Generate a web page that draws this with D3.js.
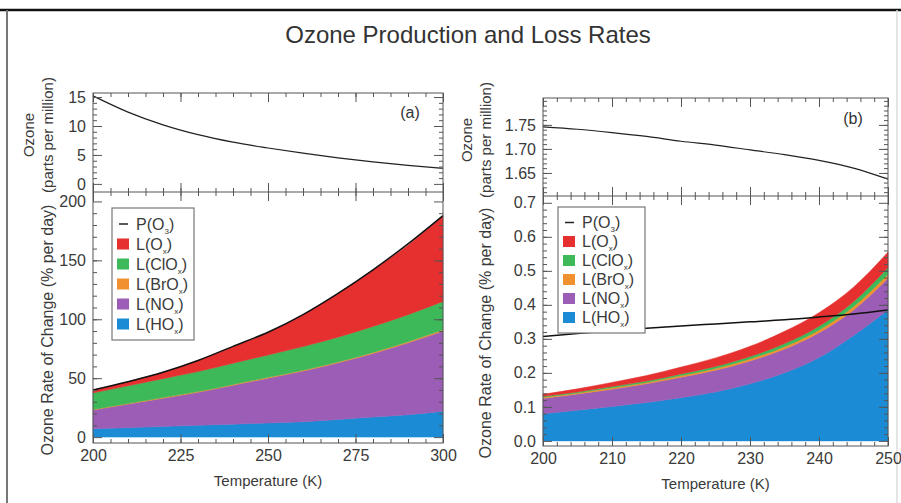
<!DOCTYPE html>
<html>
<head>
<meta charset="utf-8">
<script src="https://cdn.jsdelivr.net/npm/d3@7"></script>
<style>
  body { margin: 0; background: #fff; }
  svg { display: block; font-family: "Liberation Sans", Arial, sans-serif; }
  .tick text { fill: #3a3a3a; font-size: 16px; }
  .tick line { stroke: #555; }
  .domain { display: none; }
</style>
</head>
<body>
<svg width="901" height="503"></svg>
<script>
// ---- panel (a) data, temperature 200-300 K ----
var temp_a  = [200, 210, 220, 230, 240, 250, 260, 270, 280, 290, 300];
var ozone_a = [15.2, 12.4, 10.2, 8.5, 7.2, 6.2, 5.3, 4.5, 3.8, 3.2, 2.7];
var prod_a  = [40, 47, 55, 65, 77, 89, 104, 122, 142, 164, 188];
var hox_a   = [7, 8, 9, 10, 11, 12, 13, 15, 17, 19, 22];
var nox_a   = [16, 20, 24, 28, 33, 38, 43, 48, 54, 61, 68];
var brox_a  = [0.5, 0.5, 0.6, 0.6, 0.7, 0.7, 0.8, 0.8, 0.9, 0.9, 1.0];
var clox_a  = [14, 15, 16, 17, 18, 19, 20, 21, 22, 23, 24];
var ox_a    = [2.5, 3.5, 5.5, 9.5, 14, 19, 27, 37, 48, 59, 73];

// ---- panel (b) data, temperature 200-250 K ----
var temp_b  = [200, 205, 210, 215, 220, 225, 230, 235, 240, 245, 250];
var ozone_b = [1.746, 1.741, 1.734, 1.726, 1.716, 1.708, 1.698, 1.688, 1.676, 1.660, 1.637];
var prod_b  = [0.307, 0.316, 0.324, 0.331, 0.338, 0.344, 0.350, 0.356, 0.364, 0.373, 0.385];
var hox_b   = [0.080, 0.090, 0.101, 0.113, 0.127, 0.144, 0.168, 0.200, 0.245, 0.310, 0.385];
var nox_b   = [0.045, 0.048, 0.051, 0.055, 0.060, 0.064, 0.067, 0.070, 0.073, 0.075, 0.093];
var brox_b  = [0.003, 0.003, 0.004, 0.004, 0.005, 0.005, 0.006, 0.007, 0.008, 0.010, 0.012];
var clox_b  = [0.003, 0.003, 0.004, 0.004, 0.005, 0.006, 0.007, 0.009, 0.011, 0.014, 0.020];
var ox_b    = [0.006, 0.009, 0.012, 0.016, 0.020, 0.025, 0.030, 0.036, 0.040, 0.043, 0.045];

// legend / stack order (bottom of the stack first)
var keys   = ["hox", "nox", "brox", "clox", "ox"];
var colors = { hox: "#1b8bd6", nox: "#9b5db5", brox: "#f1902f", clox: "#3db95a", ox: "#e5302f" };
var legendItems = [
  { key: "p",    pre: "P(O",   sub: "3" },
  { key: "ox",   pre: "L(O",   sub: "x" },
  { key: "clox", pre: "L(ClO", sub: "x" },
  { key: "brox", pre: "L(BrO", sub: "x" },
  { key: "nox",  pre: "L(NO",  sub: "x" },
  { key: "hox",  pre: "L(HO",  sub: "x" }
];

var svg = d3.select("svg");

// frame round the figure
svg.append("line").attr("x1", 0).attr("x2", 901).attr("y1", 10).attr("y2", 10)
  .attr("stroke", "#111").attr("stroke-width", 2.5);
svg.append("line").attr("x1", 7).attr("x2", 7).attr("y1", 10).attr("y2", 503)
  .attr("stroke", "#777").attr("stroke-width", 2);
svg.append("line").attr("x1", 897).attr("x2", 897).attr("y1", 10).attr("y2", 503)
  .attr("stroke", "#ddd").attr("stroke-width", 1.5);

svg.append("text")
  .attr("x", 468).attr("y", 43)
  .attr("text-anchor", "middle")
  .style("font-size", "24px").style("fill", "#333")
  .text("Ozone Production and Loss Rates");

function drawPanel(cfg) {
  var g = svg.append("g");

  var x = d3.scaleLinear().domain(cfg.xDomain).range([cfg.left, cfg.right]);
  var yTop = d3.scaleLinear().domain(cfg.topDomain).range([cfg.mid, cfg.top]);
  var yBot = d3.scaleLinear().domain(cfg.botDomain).range([cfg.bottom, cfg.mid]);

  // stacked loss terms
  var rows = cfg.temp.map(function(t, i) {
    return { t: t, hox: cfg.hox[i], nox: cfg.nox[i], brox: cfg.brox[i], clox: cfg.clox[i], ox: cfg.ox[i] };
  });
  var series = d3.stack().keys(keys)(rows);
  var area = d3.area()
    .curve(d3.curveMonotoneX)
    .x(function(d) { return x(d.data.t); })
    .y0(function(d) { return yBot(d[0]); })
    .y1(function(d) { return yBot(d[1]); });

  g.append("g").selectAll("path")
    .data(series)
    .enter().append("path")
    .attr("fill", function(d) { return colors[d.key]; })
    .attr("stroke", function(d) { return colors[d.key]; })
    .attr("stroke-width", 0.5)
    .attr("d", area);

  // production line
  var prodLine = d3.line().curve(d3.curveMonotoneX)
    .x(function(d, i) { return x(cfg.temp[i]); })
    .y(function(d) { return yBot(d); });
  g.append("path").datum(cfg.prod)
    .attr("fill", "none").attr("stroke", "#111").attr("stroke-width", 1.5)
    .attr("d", prodLine);

  // ozone mixing ratio
  var ozLine = d3.line().curve(d3.curveMonotoneX)
    .x(function(d, i) { return x(cfg.temp[i]); })
    .y(function(d) { return yTop(d); });
  g.append("path").datum(cfg.ozone)
    .attr("fill", "none").attr("stroke", "#222").attr("stroke-width", 1.2)
    .attr("d", ozLine);

  // inward ticks on all four sides of both boxes
  function ticks(axisFn, scale, values, size, translate, withLabels, fmt) {
    var ax = axisFn(scale).tickValues(values).tickSize(-size).tickPadding(7);
    ax.tickFormat(withLabels ? fmt : "");
    g.append("g").attr("transform", translate).call(ax);
  }
  var xMaj = cfg.xMajor, xMin = cfg.xMinor;
  [[cfg.top, cfg.mid], [cfg.mid, cfg.bottom]].forEach(function(box, bi) {
    ticks(d3.axisTop, x, xMaj, 9, "translate(0," + box[0] + ")", false);
    ticks(d3.axisTop, x, xMin, 4, "translate(0," + box[0] + ")", false);
    ticks(d3.axisBottom, x, xMaj, 9, "translate(0," + box[1] + ")", bi == 1, d3.format("d"));
    ticks(d3.axisBottom, x, xMin, 4, "translate(0," + box[1] + ")", false);
  });
  ticks(d3.axisLeft, yTop, cfg.topMajor, 9, "translate(" + cfg.left + ",0)", true, cfg.topFmt);
  ticks(d3.axisLeft, yTop, cfg.topMinor, 4, "translate(" + cfg.left + ",0)", false);
  ticks(d3.axisRight, yTop, cfg.topMajor, 9, "translate(" + cfg.right + ",0)", false);
  ticks(d3.axisRight, yTop, cfg.topMinor, 4, "translate(" + cfg.right + ",0)", false);
  ticks(d3.axisLeft, yBot, cfg.botMajor, 9, "translate(" + cfg.left + ",0)", true, cfg.botFmt);
  ticks(d3.axisLeft, yBot, cfg.botMinor, 4, "translate(" + cfg.left + ",0)", false);
  ticks(d3.axisRight, yBot, cfg.botMajor, 9, "translate(" + cfg.right + ",0)", false);
  ticks(d3.axisRight, yBot, cfg.botMinor, 4, "translate(" + cfg.right + ",0)", false);

  // panel boxes
  g.append("rect")
    .attr("x", cfg.left).attr("y", cfg.top)
    .attr("width", cfg.right - cfg.left).attr("height", cfg.bottom - cfg.top)
    .attr("fill", "none").attr("stroke", "#555").attr("stroke-width", 1);
  g.append("line")
    .attr("x1", cfg.left).attr("x2", cfg.right).attr("y1", cfg.mid).attr("y2", cfg.mid)
    .attr("stroke", "#555").attr("stroke-width", 1.2);

  // axis titles
  function vtext(xp, yp, txt, size) {
    g.append("text")
      .attr("transform", "translate(" + xp + "," + yp + ") rotate(-90)")
      .attr("text-anchor", "middle").attr("dominant-baseline", "central")
      .style("font-size", size + "px").style("fill", "#3a3a3a")
      .text(txt);
  }
  vtext(cfg.titleX - 19, cfg.top + 42, "Ozone", 15);
  vtext(cfg.titleX, cfg.top + 42, "(parts per million)", 15);
  vtext(cfg.titleX, cfg.bottom - 113, "Ozone Rate of Change (% per day)", 16);

  g.append("text")
    .attr("x", (cfg.left + cfg.right) / 2).attr("y", cfg.bottom + 43)
    .attr("text-anchor", "middle")
    .style("font-size", "15px").style("fill", "#3a3a3a")
    .text("Temperature (K)");

  g.append("text")
    .attr("x", cfg.labelX).attr("y", cfg.labelY)
    .attr("text-anchor", "middle")
    .style("font-size", "16px").style("fill", "#333")
    .text(cfg.label);

  // legend
  var lg = g.append("g").attr("transform", "translate(" + cfg.legX + "," + cfg.legY + ")");
  lg.append("rect")
    .attr("width", cfg.legW).attr("height", cfg.legStep * 6 + 12)
    .attr("fill", "#fff").attr("stroke", "#777").attr("stroke-width", 1.2);
  var item = lg.selectAll("g.item").data(legendItems).enter().append("g")
    .attr("class", "item")
    .attr("transform", function(d, i) { return "translate(0," + (cfg.legStep * (i + 0.5) + 6) + ")"; });
  item.filter(function(d) { return d.key == "p"; }).append("line")
    .attr("x1", 7).attr("x2", 16).attr("y1", 0).attr("y2", 0)
    .attr("stroke", "#222").attr("stroke-width", 1.5);
  item.filter(function(d) { return d.key != "p"; }).append("rect")
    .attr("x", 5).attr("y", -5.5).attr("width", 12).attr("height", 11)
    .attr("fill", function(d) { return colors[d.key]; });
  var t = item.append("text")
    .attr("x", 24).attr("y", 5.5)
    .style("font-size", "16px").style("fill", "#3a3a3a");
  t.append("tspan").text(function(d) { return d.pre; });
  t.append("tspan").attr("dy", 4).style("font-size", "8px").text(function(d) { return d.sub; });
  t.append("tspan").attr("dy", -4).text(")");
}

drawPanel({
  left: 93, right: 443, top: 93, mid: 192, bottom: 443,
  xDomain: [200, 300], topDomain: [-1.4, 15.7], botDomain: [-5, 208],
  xMajor: [200, 225, 250, 275, 300], xMinor: d3.range(205, 300, 5),
  topMajor: [0, 5, 10, 15], topMinor: d3.range(1, 15, 1), topFmt: d3.format("d"),
  botMajor: [0, 50, 100, 150, 200], botMinor: d3.range(10, 200, 10), botFmt: d3.format("d"),
  temp: temp_a, ozone: ozone_a, prod: prod_a,
  hox: hox_a, nox: nox_a, brox: brox_a, clox: clox_a, ox: ox_a,
  titleX: 47, label: "(a)", labelX: 410, labelY: 118,
  legX: 112, legY: 208, legW: 82, legStep: 20
});

drawPanel({
  left: 543, right: 888, top: 98, mid: 196, bottom: 446,
  xDomain: [200, 250], topDomain: [1.602, 1.806], botDomain: [-0.015, 0.72],
  xMajor: [200, 210, 220, 230, 240, 250], xMinor: d3.range(202, 250, 2),
  topMajor: [1.65, 1.70, 1.75], topMinor: d3.range(1.61, 1.805, 0.01), topFmt: d3.format(".2f"),
  botMajor: [0, 0.1, 0.2, 0.3, 0.4, 0.5, 0.6, 0.7], botMinor: d3.range(0.02, 0.7, 0.02), botFmt: d3.format(".1f"),
  temp: temp_b, ozone: ozone_b, prod: prod_b,
  hox: hox_b, nox: nox_b, brox: brox_b, clox: clox_b, ox: ox_b,
  titleX: 485, label: "(b)", labelX: 853, labelY: 124,
  legX: 558, legY: 207, legW: 87, legStep: 19
});
</script>
</body>
</html>
